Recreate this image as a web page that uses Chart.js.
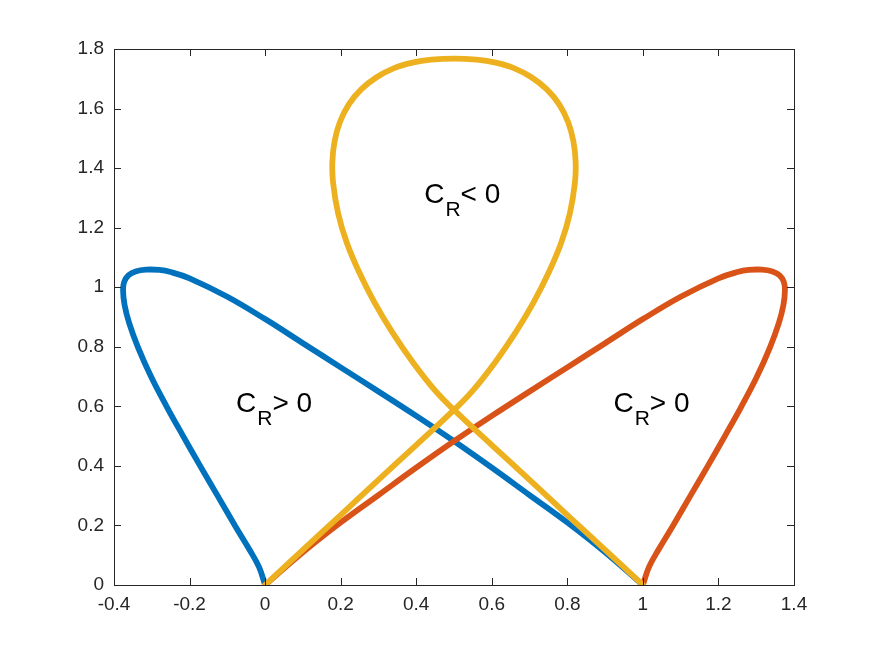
<!DOCTYPE html>
<html>
<head>
<meta charset="utf-8">
<script src="https://cdn.jsdelivr.net/npm/chart.js@4.4.1/dist/chart.umd.min.js"></script>
<style>
  html, body { margin: 0; padding: 0; background: #fff; }
  canvas { display: block; }
</style>
</head>
<body>
<canvas id="chart" width="875" height="656"></canvas>
<script>
const xTicks = [-0.4, -0.2, 0, 0.2, 0.4, 0.6, 0.8, 1, 1.2, 1.4];
const yTicks = [0, 0.2, 0.4, 0.6, 0.8, 1, 1.2, 1.4, 1.6, 1.8];

// blue loop: starts at (0,0), goes up the left side, over the top, back down to (1,0)
const blueX = [0, -0.016, -0.042, -0.08, -0.126, -0.172, -0.217, -0.261, -0.302, -0.337, -0.36, -0.372, -0.376,
  -0.373, -0.362, -0.343, -0.315, -0.28, -0.25, -0.2, -0.1, 0, 0.1, 0.2, 0.3, 0.4, 0.5, 0.6, 0.7, 0.8, 0.9, 1];
const blueY = [0, 0.06, 0.12, 0.2, 0.3, 0.4, 0.5, 0.6, 0.7, 0.8, 0.88, 0.94, 0.99,
  1.018, 1.04, 1.053, 1.059, 1.058, 1.051, 1.03, 0.968, 0.893, 0.812, 0.731, 0.65, 0.568, 0.483, 0.394, 0.302, 0.21, 0.11, 0];

// red loop: starts at (1,0), goes up the right side, over the top, back down to (0,0)
const redX = [1, 1.016, 1.042, 1.08, 1.126, 1.172, 1.217, 1.261, 1.302, 1.337, 1.36, 1.372, 1.376,
  1.373, 1.362, 1.343, 1.315, 1.28, 1.25, 1.2, 1.1, 1, 0.9, 0.8, 0.7, 0.6, 0.5, 0.4, 0.3, 0.2, 0.1, 0];
const redY = [0, 0.06, 0.12, 0.2, 0.3, 0.4, 0.5, 0.6, 0.7, 0.8, 0.88, 0.94, 0.99,
  1.018, 1.04, 1.053, 1.059, 1.058, 1.051, 1.03, 0.968, 0.893, 0.812, 0.731, 0.65, 0.568, 0.483, 0.394, 0.302, 0.21, 0.11, 0];

// yellow teardrop: (0,0) up through the crossing, round the top, back through the crossing to (1,0)
const yellowX = [0, 0.1, 0.2, 0.3, 0.4, 0.5, 0.548, 0.61, 0.664, 0.711, 0.751, 0.784, 0.807, 0.82, 0.822,
  0.816, 0.802, 0.778, 0.745, 0.705, 0.66, 0.61, 0.56, 0.5, 0.44, 0.39, 0.34, 0.295, 0.255, 0.222, 0.198, 0.184,
  0.178, 0.18, 0.193, 0.216, 0.249, 0.289, 0.336, 0.39, 0.452, 0.5, 0.6, 0.7, 0.8, 0.9, 1];
const yellowY = [0, 0.118, 0.235, 0.353, 0.47, 0.588, 0.65, 0.75, 0.85, 0.95, 1.05, 1.15, 1.25, 1.35, 1.42,
  1.49, 1.555, 1.615, 1.665, 1.705, 1.735, 1.754, 1.764, 1.768, 1.764, 1.754, 1.735, 1.705, 1.665, 1.615, 1.555, 1.49,
  1.42, 1.35, 1.25, 1.15, 1.05, 0.95, 0.85, 0.75, 0.65, 0.588, 0.47, 0.353, 0.235, 0.118, 0];

const regionLabels = [
  { sign: "> 0", x: -0.077, y: 0.581 },
  { sign: "< 0", x: 0.421, y: 1.282 },
  { sign: "> 0", x: 0.922, y: 0.581 }
];

const toPoints = (xs, ys) => xs.map((x, i) => ({ x, y: ys[i] }));

const axisColor = "#262626";
const fontFamily = '"Liberation Sans", Arial, Helvetica, sans-serif';

// MATLAB style box with ticks pointing inwards on all four sides
const boxPlugin = {
    id: "box",
    afterDatasetsDraw(chart) {
        const { ctx, chartArea: a, scales } = chart;
        const len = 7;
        ctx.save();
        ctx.strokeStyle = axisColor;
        ctx.lineWidth = 1;
        ctx.beginPath();
        xTicks.forEach(v => {
            const px = Math.round(scales.x.getPixelForValue(v)) + 0.5;
            ctx.moveTo(px, a.bottom);
            ctx.lineTo(px, a.bottom - len);
            ctx.moveTo(px, a.top);
            ctx.lineTo(px, a.top + len);
        });
        yTicks.forEach(v => {
            const py = Math.round(scales.y.getPixelForValue(v)) + 0.5;
            ctx.moveTo(a.left, py);
            ctx.lineTo(a.left + len, py);
            ctx.moveTo(a.right, py);
            ctx.lineTo(a.right - len, py);
        });
        ctx.stroke();
        ctx.strokeRect(Math.round(a.left) + 0.5, Math.round(a.top) + 0.5,
            Math.round(a.right - a.left), Math.round(a.bottom - a.top));

        // C_R annotations
        ctx.fillStyle = "#000";
        ctx.textBaseline = "alphabetic";
        regionLabels.forEach(l => {
            let px = scales.x.getPixelForValue(l.x);
            const py = scales.y.getPixelForValue(l.y);
            ctx.font = "28px " + fontFamily;
            ctx.fillText("C", px, py);
            px += ctx.measureText("C").width + 1;
            ctx.font = "21px " + fontFamily;
            ctx.fillText("R", px, py + 13);
            px += ctx.measureText("R").width;
            ctx.font = "28px " + fontFamily;
            ctx.fillText(l.sign, px, py);
        });
        ctx.restore();
    }
};

const lineStyle = {
    pointRadius: 0,
    borderWidth: 5.8,
    tension: 0.4,
    borderCapStyle: "round",
    borderJoinStyle: "round",
    fill: false
};

new Chart(document.getElementById("chart"), {
    type: "line",
    data: {
        datasets: [
            { ...lineStyle, data: toPoints(blueX, blueY), borderColor: "#0072BD", order: 3 },
            { ...lineStyle, data: toPoints(redX, redY), borderColor: "#D95319", order: 2 },
            { ...lineStyle, data: toPoints(yellowX, yellowY), borderColor: "#EDB120", order: 1 }
        ]
    },
    options: {
        responsive: false,
        animation: false,
        layout: { padding: { left: 0, top: 49, right: 81, bottom: 0 } },
        plugins: {
            legend: { display: false },
            tooltip: { enabled: false }
        },
        scales: {
            x: {
                type: "linear",
                min: -0.4,
                max: 1.4,
                afterBuildTicks: s => { s.ticks = xTicks.map(v => ({ value: v })); },
                afterFit: s => { s.height = 71; },
                grid: { display: false, drawTicks: false },
                border: { display: false },
                ticks: {
                    color: axisColor,
                    padding: 8,
                    font: { family: fontFamily, size: 19 },
                    maxRotation: 0,
                    callback: v => String(+v.toFixed(1))
                }
            },
            y: {
                type: "linear",
                min: 0,
                max: 1.8,
                afterBuildTicks: s => { s.ticks = yTicks.map(v => ({ value: v })); },
                afterFit: s => { s.width = 114; },
                grid: { display: false, drawTicks: false },
                border: { display: false },
                ticks: {
                    color: axisColor,
                    padding: 10,
                    font: { family: fontFamily, size: 19 },
                    callback: v => String(+v.toFixed(1))
                }
            }
        }
    },
    plugins: [boxPlugin]
});
</script>
</body>
</html>
